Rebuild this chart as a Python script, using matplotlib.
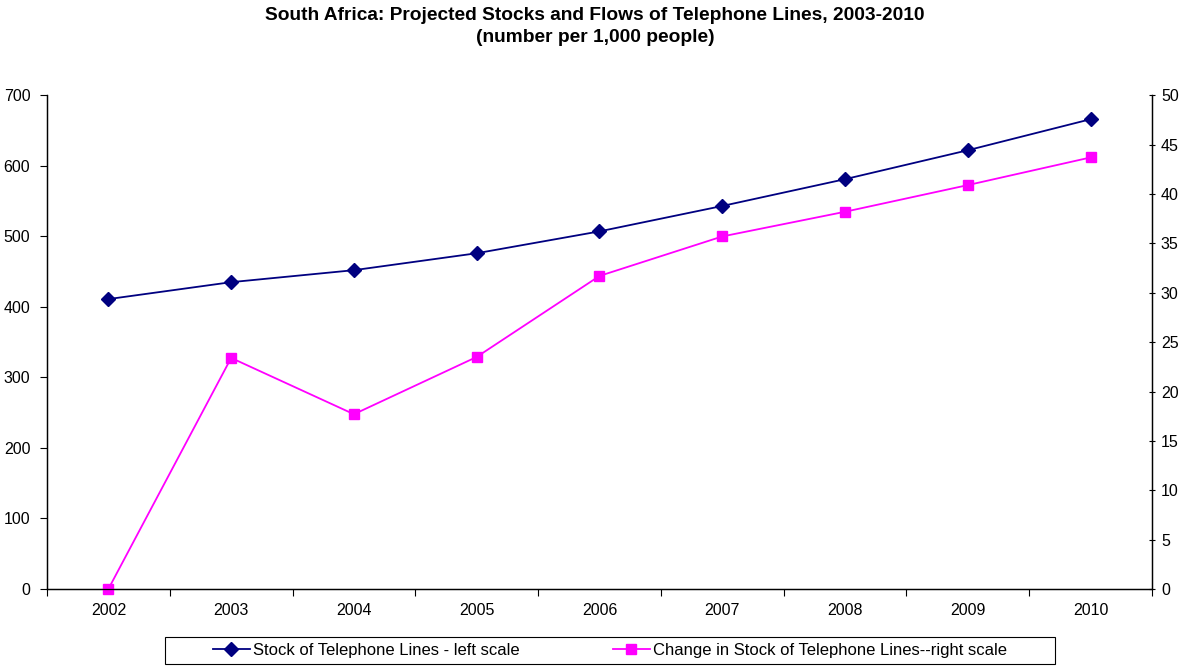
import matplotlib
matplotlib.use('Agg')
import matplotlib.pyplot as plt
import matplotlib.patches as patches
import numpy as np

plt.rcParams['font.family'] = ['Liberation Sans', 'DejaVu Sans']

years = ['2002', '2003', '2004', '2005', '2006', '2007', '2008', '2009', '2010']
stock = [411, 435, 452, 476, 507, 543, 581, 622, 666]
change = [0, 23.4, 17.7, 23.5, 31.7, 35.7, 38.2, 40.9, 43.7]

fig = plt.figure(figsize=(11.9, 6.66), dpi=100)
ax = fig.add_axes([0.0395, 0.1156, 0.9285, 0.7414])
ax2 = ax.twinx()

x = np.arange(len(years))
l1, = ax.plot(x, stock, color='#000080', marker='D', markersize=7, linewidth=1.3,
              label='Stock of Telephone Lines - left scale')
l2, = ax2.plot(x, change, color='#FF00FF', marker='s', markersize=6.5, linewidth=1.3,
               label='Change in Stock of Telephone Lines--right scale')
l1.set_clip_on(False)
l2.set_clip_on(False)

ax.set_xlim(-0.5, len(years) - 0.5)
ax.set_ylim(0, 700)
ax.set_yticks(range(0, 701, 100))
ax2.set_ylim(0, 50)
ax2.set_yticks(range(0, 51, 5))

ax.set_xticks(np.arange(-0.5, len(years), 1))
ax.set_xticklabels([])
ax.set_xticks(x, minor=True)
ax.set_xticklabels(years, minor=True)
ax.tick_params(axis='x', which='minor', length=0, pad=10, labelsize=11.5)
ax.tick_params(axis='x', which='major', length=5, direction='out', width=0.8)
ax.tick_params(axis='y', length=5, direction='out', labelsize=11.5, pad=7)
ax2.tick_params(axis='y', length=5, direction='inout', labelsize=11.5, pad=4)

for a in (ax, ax2):
    a.spines['top'].set_visible(False)
    for s in ('left', 'right', 'bottom'):
        a.spines[s].set_linewidth(0.9)

fig.suptitle('South Africa: Projected Stocks and Flows of Telephone Lines, 2003-2010\n(number per 1,000 people)',
             fontsize=13.8, fontweight='bold', y=0.99, linespacing=1.4)

# legend box drawn separately, Excel style wide padding
box = patches.Rectangle((0.1387, 0.003), 0.7479, 0.0405, transform=fig.transFigure,
                        facecolor='white', edgecolor='black', linewidth=0.8)
fig.patches.append(box)
leg = fig.legend(handles=[l1, l2], loc='center', bbox_to_anchor=(0.5126, 0.0233), ncol=2,
                 frameon=False, fontsize=12, columnspacing=5.6, handlelength=2.2,
                 handletextpad=0.2, borderpad=0)

fig.savefig('out.png', dpi=100)
